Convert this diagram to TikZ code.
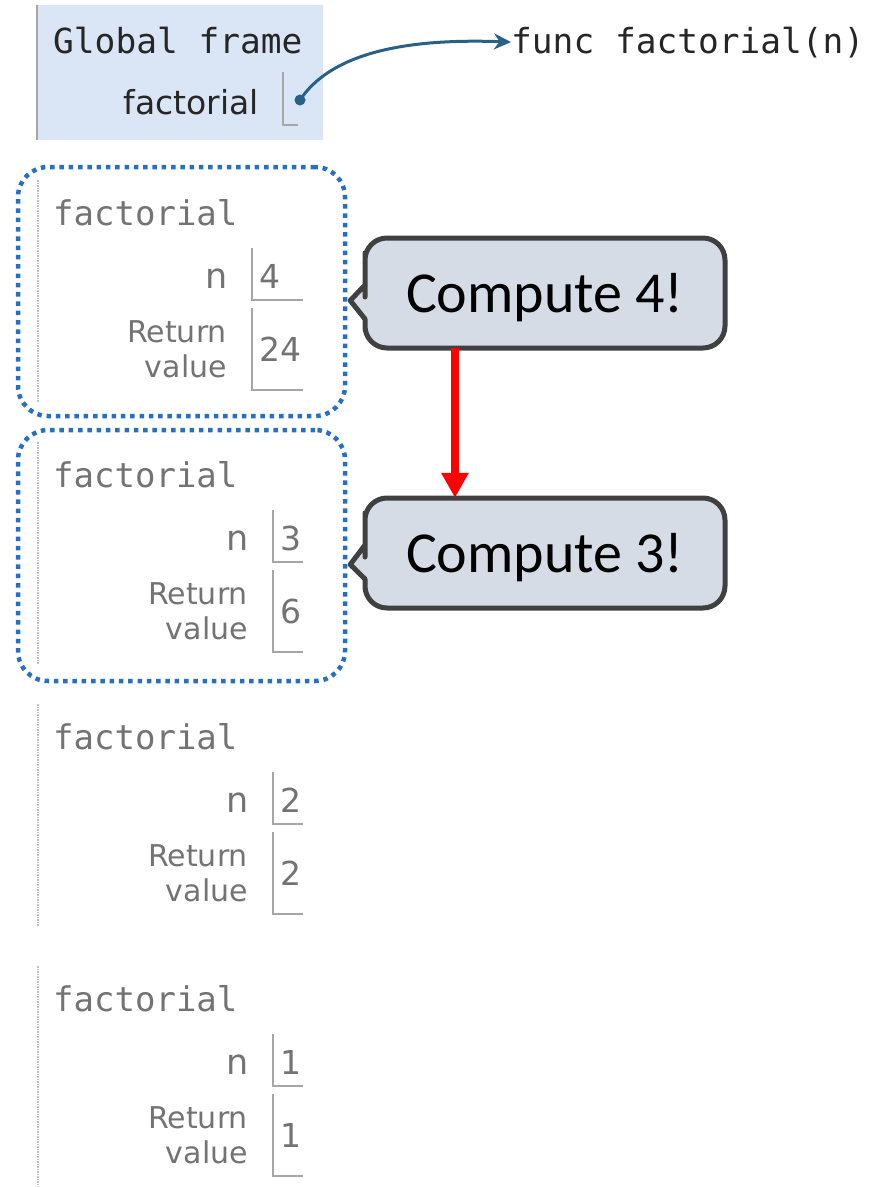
\documentclass[tikz,border=0pt]{standalone}
\usepackage{fontspec}
\setmainfont{DejaVu Sans}
\newfontfamily\monofont{DejaVu Sans Mono}
\newfontfamily\callfont{Carlito}
\usetikzlibrary{arrows.meta,calc}
\definecolor{gfill}{RGB}{218,230,245}
\definecolor{fgray}{RGB}{115,115,115}
\definecolor{frameblue}{RGB}{38,112,196}
\definecolor{ptrblue}{RGB}{40,96,136}
\definecolor{cfill}{RGB}{214,220,229}
\definecolor{cborder}{RGB}{64,64,64}
\tikzset{
  mono/.style={inner sep=0pt,font=\monofont\fontsize{34.5}{40}\selectfont},
  glab/.style={inner sep=0pt,font=\fontsize{33}{40}\selectfont},
  nlab/.style={inner sep=0pt,text=fgray,font=\fontsize{35}{40}\selectfont},
  rlab/.style={inner sep=0pt,text=fgray,font=\fontsize{30}{35}\selectfont},
  vlab/.style={inner sep=0pt,text=fgray,font=\fontsize{33}{40}\selectfont},
  boxline/.style={draw=gray!70,line width=1.5pt},
  callframe/.style={draw=frameblue,line width=4.5pt,dash pattern=on 4.5pt off 4.8pt,rounded corners=30pt},
  callshape/.style={draw=cborder,fill=cfill,line width=5pt,line join=round},
  calltext/.style={inner sep=0pt,text depth=0pt,minimum width=360pt,minimum height=110pt,font=\callfont\fontsize{58}{60}\selectfont},
  ptr/.style={ptrblue,line width=3pt,-{Stealth[length=17pt,width=16pt]}},
  redarrow/.style={red,line width=8pt,-{Triangle[length=25pt,width=26pt]}}
}
% one factorial frame: name, top, box x, n, return value
\def\FRAME#1#2#3#4#5{
  \draw[gray!50,densely dotted,line width=1.5pt] (38,#2) -- (38,#2+222);
  \node[mono,text=fgray,anchor=base west,font=\monofont\fontsize{34}{40}\selectfont] (#1t) at (53,#2+45) {factorial};
  \node[nlab,anchor=base east] (#1n) at (#3-24,#2+108) {n};
  \node[rlab,anchor=base east] (#1r) at (#3-25,#2+162) {Return};
  \node[rlab,anchor=base east] (#1v) at (#3-25,#2+197) {value};
  \draw[boxline] (#3,#2+68) |- (303,#2+120);
  \draw[boxline] (#3,#2+128) |- (303,#2+210);
  \node[vlab,anchor=base west] (#1nv) at (#3+7,#2+108) {#4};
  \node[vlab,anchor=base west] (#1rv) at (#3+7,#2+181) {#5};
}
% speech bubble: name, centre y, number, frame it points at
\def\CALLOUT#1#2#3#4{
  \coordinate (#1tip) at ($(#4.east)+(3,9)$);
  \draw[callshape] (#1tip) -- (365,#2+26) -- (365,#2+36) [rounded corners=22pt] -- (365,#2+55) -- (725,#2+55)
    -- (725,#2-55) -- (365,#2-55) -- (365,#2-18) [sharp corners] -- (365,#2-8) -- cycle;
  \node[calltext] (#1) at (545,#2) {Compute #3!};
}
\begin{document}
\begin{tikzpicture}[x=1pt,y=-1pt]
\useasboundingbox (0,0) rectangle (886,1187);
% global frame
\fill[gfill] (37,5) rectangle (323,140);
\draw[gray!70,line width=1.5pt] (37,5) -- (37,140);
\node[mono,anchor=base west,text=black!85] (gtitle) at (53,53) {Global frame};
\node[glab,anchor=base east,text=black!85] (gfact) at (259,114) {factorial};
\draw[boxline] (283,72) |- (298,125);
\node[circle,fill=ptrblue,inner sep=0pt,minimum size=11pt] (dot) at (300,100) {};
\node[mono,anchor=base west,text=black!85] (func) at (511,53) {func factorial(n)};
\draw[ptr] (dot.center) .. controls (330,55) and (400,38) .. (func.west);

\node[callframe,minimum width=327pt,minimum height=249pt] (fr4) at (181.5,291.5) {};
\node[callframe,minimum width=327pt,minimum height=251pt] (fr3) at (181.5,555.5) {};
\FRAME{f4}{180}{252}{4}{24}
\FRAME{f3}{442}{273}{3}{6}
\FRAME{f2}{704}{273}{2}{2}
\FRAME{f1}{966}{273}{1}{1}

\CALLOUT{c4}{293}{4}{fr4}
\CALLOUT{c3}{553}{3}{fr3}
\draw[redarrow] ([xshift=-90pt]c4.south) -- ([xshift=-90pt]c3.north);
\end{tikzpicture}
\end{document}
